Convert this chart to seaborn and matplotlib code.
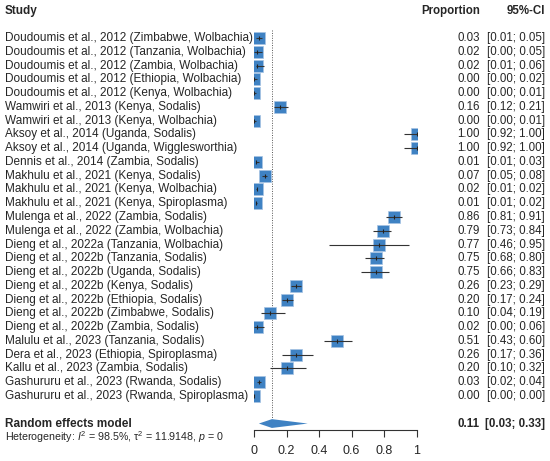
import pandas as pd
import matplotlib.pyplot as plt
import seaborn as sns
from matplotlib.transforms import blended_transform_factory

sns.set_style("white")
plt.rcParams['font.family'] = ['Liberation Sans', 'DejaVu Sans']
plt.rcParams['mathtext.fontset'] = 'custom'
plt.rcParams['mathtext.rm'] = 'Liberation Sans'
plt.rcParams['mathtext.it'] = 'Liberation Sans:italic'

studies = [
    "Doudoumis et al., 2012 (Zimbabwe, Wolbachia)",
    "Doudoumis et al., 2012 (Tanzania, Wolbachia)",
    "Doudoumis et al., 2012 (Zambia, Wolbachia)",
    "Doudoumis et al., 2012 (Ethiopia, Wolbachia)",
    "Doudoumis et al., 2012 (Kenya, Wolbachia)",
    "Wamwiri et al., 2013 (Kenya, Sodalis)",
    "Wamwiri et al., 2013 (Kenya, Wolbachia)",
    "Aksoy et al., 2014 (Uganda, Sodalis)",
    "Aksoy et al., 2014 (Uganda, Wigglesworthia)",
    "Dennis et al., 2014 (Zambia, Sodalis)",
    "Makhulu et al., 2021 (Kenya, Sodalis)",
    "Makhulu et al., 2021 (Kenya, Wolbachia)",
    "Makhulu et al., 2021 (Kenya, Spiroplasma)",
    "Mulenga et al., 2022 (Zambia, Sodalis)",
    "Mulenga et al., 2022 (Zambia, Wolbachia)",
    "Dieng et al., 2022a (Tanzania, Wolbachia)",
    "Dieng et al., 2022b (Tanzania, Sodalis)",
    "Dieng et al., 2022b (Uganda, Sodalis)",
    "Dieng et al., 2022b (Kenya, Sodalis)",
    "Dieng et al., 2022b (Ethiopia, Sodalis)",
    "Dieng et al., 2022b (Zimbabwe, Sodalis)",
    "Dieng et al., 2022b (Zambia, Sodalis)",
    "Malulu et al., 2023 (Tanzania, Sodalis)",
    "Dera et al., 2023 (Ethiopia, Spiroplasma)",
    "Kallu et al., 2023 (Zambia, Sodalis)",
    "Gashururu et al., 2023 (Rwanda, Sodalis)",
    "Gashururu et al., 2023 (Rwanda, Spiroplasma)",
]
prop = [0.03, 0.02, 0.02, 0.00, 0.00, 0.16, 0.00, 1.00, 1.00, 0.01,
        0.07, 0.02, 0.01, 0.86, 0.79, 0.77, 0.75, 0.75, 0.26, 0.20,
        0.10, 0.02, 0.51, 0.26, 0.20, 0.03, 0.00]
lower = [0.01, 0.00, 0.01, 0.00, 0.00, 0.12, 0.00, 0.92, 0.92, 0.01,
         0.05, 0.01, 0.01, 0.81, 0.73, 0.46, 0.68, 0.66, 0.23, 0.17,
         0.04, 0.00, 0.43, 0.17, 0.10, 0.02, 0.00]
upper = [0.05, 0.05, 0.06, 0.02, 0.01, 0.21, 0.01, 1.00, 1.00, 0.03,
         0.08, 0.02, 0.02, 0.91, 0.84, 0.95, 0.80, 0.83, 0.29, 0.24,
         0.19, 0.06, 0.60, 0.36, 0.32, 0.04, 0.00]

pooled, pooled_lo, pooled_hi = 0.11, 0.03, 0.33
heterogeneity = r"Heterogeneity: $I^2$ = 98.5%, $\mathrm{\tau}^2$ = 11.9148, $p$ = 0"

df = pd.DataFrame({'study': studies, 'prop': prop, 'lower': lower, 'upper': upper})
df['row'] = range(len(df))

blue = '#3f82c3'
n = len(df)
row_pooled = n + 1
row_het = n + 2

fig = plt.figure(figsize=(5.5, 4.61), dpi=100)
ax = fig.add_axes([254 / 550, 0, 162.7 / 550, 1])
ax.axis('off')

# dotted reference line at the pooled estimate
ax.plot([pooled, pooled], [-0.6, row_pooled - 0.3], color='#555555', lw=0.7, ls=(0, (1, 1.5)))

sns.scatterplot(data=df, x='prop', y='row', marker='s', s=68, color=blue,
                edgecolor='#a7c4e4', linewidth=0.5, ax=ax, zorder=3, legend=False)
ax.hlines(df['row'], df['lower'], df['upper'], color='#333333', lw=0.8, zorder=4)
ax.plot(df['prop'], df['row'], marker='|', ls='none', color='#222222', ms=3, mew=0.8, zorder=5)

# pooled diamond
ax.fill([pooled_lo, pooled, pooled_hi, pooled],
        [row_pooled, row_pooled - 0.32, row_pooled, row_pooled + 0.32],
        color=blue, lw=0, zorder=3)
ax.set_xlim(0, 1)
ax.set_ylim(30.72, -2.76)

# x axis
xax = fig.add_axes([254 / 550, 1 - 430 / 461, 162.7 / 550, 0.0001])
xax.set_xlim(0, 1)
xax.set_yticks([])
for s in ['top', 'left', 'right']:
    xax.spines[s].set_visible(False)
xax.spines['bottom'].set_color('#333333')
xax.spines['bottom'].set_linewidth(0.8)
xax.set_xticks([0, 0.2, 0.4, 0.6, 0.8, 1])
xax.set_xticklabels(['0', '0.2', '0.4', '0.6', '0.8', '1'])
xax.tick_params(axis='x', direction='out', length=5, width=0.8, color='#333333',
                labelsize=9, pad=6, bottom=True)
xax.patch.set_alpha(0)

tr = blended_transform_factory(fig.transFigure, ax.transData)
fs_lab = 8.5
fs = 8.3
x_lab, x_prop, x_ci = 5 / 550, 480 / 550, 545 / 550

ax.text(x_lab, -1.95, 'Study', transform=tr, fontsize=fs_lab, fontweight='bold', va='center', ha='left')
ax.text(x_prop, -1.95, 'Proportion', transform=tr, fontsize=fs, fontweight='bold', va='center', ha='right')
ax.text(x_ci, -1.95, '95%-CI', transform=tr, fontsize=fs, fontweight='bold', va='center', ha='right')

for _, r in df.iterrows():
    ax.text(x_lab, r['row'], r['study'], transform=tr, fontsize=fs_lab, va='center', ha='left')
    ax.text(x_prop, r['row'], f"{r['prop']:.2f}", transform=tr, fontsize=fs, va='center', ha='right')
    ax.text(x_ci, r['row'], f"[{r['lower']:.2f}; {r['upper']:.2f}]", transform=tr,
            fontsize=fs, va='center', ha='right')

ax.text(x_lab, row_pooled, 'Random effects model', transform=tr, fontsize=fs_lab,
        fontweight='bold', va='center', ha='left')
ax.text(x_prop, row_pooled, f"{pooled:.2f}", transform=tr, fontsize=fs,
        fontweight='bold', va='center', ha='right')
ax.text(x_ci, row_pooled, f"[{pooled_lo:.2f}; {pooled_hi:.2f}]", transform=tr, fontsize=fs,
        fontweight='bold', va='center', ha='right')
ax.text(x_lab, row_het, heterogeneity, transform=tr, fontsize=7.7, va='center', ha='left')

fig.savefig('out.png', dpi=100)
